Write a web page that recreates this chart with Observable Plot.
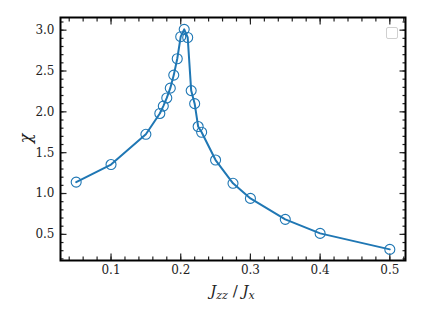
<!DOCTYPE html>
<html><head><meta charset="utf-8">
<script src="https://cdn.jsdelivr.net/npm/d3@7"></script>
<script src="https://cdn.jsdelivr.net/npm/@observablehq/plot@0.6"></script>
<style>
body{margin:0;background:#fff;}
#wrap{position:relative;width:423px;height:317px;}
#legend{position:absolute;left:386px;top:27px;width:10px;height:10px;border:1px solid #d0d0d0;border-radius:2px;background:#fff;}
</style>
</head><body>
<div id="wrap"><div id="legend"></div></div>
<script>
const ratio = [0.05,0.1,0.15,0.17,0.175,0.18,0.185,0.19,0.195,0.2,0.205,0.21,0.215,0.22,0.225,0.23,0.25,0.275,0.3,0.35,0.4,0.5];
const chi   = [1.14,1.355,1.725,1.98,2.07,2.17,2.29,2.45,2.65,2.92,3.01,2.91,2.26,2.10,1.82,1.75,1.41,1.125,0.94,0.684,0.512,0.316];
const xTicks = [0.1,0.2,0.3,0.4,0.5];
const xMinor = d3.range(0.04,0.521,0.02).map(v=>+v.toFixed(2));
const yTicks = [0.5,1.0,1.5,2.0,2.5,3.0];
const yMinor = d3.range(0.2,3.11,0.1).map(v=>+v.toFixed(1));
const data = ratio.map((r,i)=>({r, c: chi[i]}));
const col = "#1f77b4";
const fmt = d3.format(".1f");
const font = "DejaVu Serif";

const plot = Plot.plot({
  width: 423, height: 317,
  marginLeft: 60, marginRight: 18, marginTop: 17, marginBottom: 57,
  style: {fontFamily: font, fontSize: "12px", color: "#222", background: "white"},
  x: {domain: [0.0275, 0.5225]},
  y: {domain: [0.18, 3.155]},
  marks: [
    Plot.axisX({anchor:"bottom", ticks: xMinor, tickSize: -3.5, text: null, label: null, strokeWidth: 1.2}),
    Plot.axisX({anchor:"top", ticks: xMinor, tickSize: -3.5, text: null, label: null, strokeWidth: 1.2}),
    Plot.axisX({anchor:"bottom", ticks: xTicks, tickSize: -6.5, text: null, label: null, strokeWidth: 1.2}),
    Plot.axisX({anchor:"top", ticks: xTicks, tickSize: -6.5, text: null, label: null, strokeWidth: 1.2}),
    Plot.axisX({anchor:"bottom", ticks: xTicks, tickSize: 0, tickPadding: 5, tickFormat: fmt, label: null, fill: "#222", fontSize: 12}),
    Plot.axisY({anchor:"left", ticks: yMinor, tickSize: -3.5, text: null, label: null, strokeWidth: 1.2}),
    Plot.axisY({anchor:"right", ticks: yMinor, tickSize: -3.5, text: null, label: null, strokeWidth: 1.2}),
    Plot.axisY({anchor:"left", ticks: yTicks, tickSize: -6.5, text: null, label: null, strokeWidth: 1.2}),
    Plot.axisY({anchor:"right", ticks: yTicks, tickSize: -6.5, text: null, label: null, strokeWidth: 1.2}),
    Plot.axisY({anchor:"left", ticks: yTicks, tickSize: 0, tickPadding: 6, tickFormat: fmt, label: null, fill: "#222", fontSize: 12}),
    Plot.line(data, {x: "r", y: "c", stroke: col, strokeWidth: 2}),
    Plot.dot(data, {x: "r", y: "c", r: 5, stroke: col, fill: "none", strokeWidth: 1.1}),
    Plot.frame({stroke: "black", strokeWidth: 2})
  ]
});
document.getElementById("wrap").prepend(plot);

const svg = d3.select(plot);
svg.selectAll('g[aria-label="x-axis tick label"], g[aria-label="y-axis tick label"]')
  .style("font-size", "12px").style("font-family", font);
const xr = plot.scale("x").range, yr = plot.scale("y").range;
const cx = (xr[0]+xr[1])/2, cy = (yr[0]+yr[1])/2;
const xl = svg.append("text").attr("x", cx).attr("y", 296).attr("text-anchor","middle")
  .style("font-family", font).style("font-size","15px").style("white-space","pre").attr("fill","#222");
xl.append("tspan").attr("font-style","italic").text("J");
xl.append("tspan").attr("font-style","italic").attr("font-size","11px").attr("dy",3).text("zz");
xl.append("tspan").attr("dy",-3).text(" / ");
xl.append("tspan").attr("font-style","italic").text("J");
xl.append("tspan").attr("font-style","italic").attr("font-size","11px").attr("dy",3).text("x");
svg.append("text").attr("transform",`translate(31,${cy}) rotate(-90)`).attr("text-anchor","middle")
  .style("font-family", font).style("font-size","16px").attr("font-style","italic").attr("fill","#222").text("χ");
</script>
</body></html>
